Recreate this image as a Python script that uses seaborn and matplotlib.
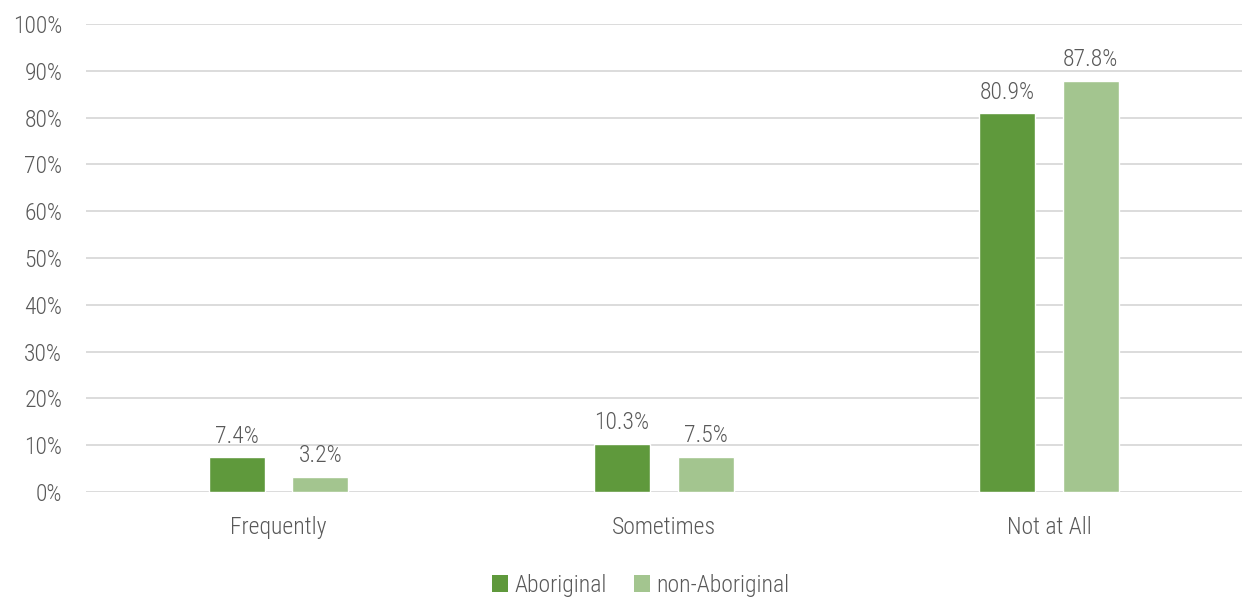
import matplotlib
matplotlib.use("Agg")
import matplotlib.pyplot as plt
import seaborn as sns
import pandas as pd
from matplotlib.patches import Patch

# Survey responses by group (percent)
categories = ["Frequently", "Sometimes", "Not at All"]
groups = ["Aboriginal", "non-Aboriginal"]
aboriginal = [7.4, 10.3, 80.9]
non_aboriginal = [3.2, 7.5, 87.8]
y_ticks = [0, 10, 20, 30, 40, 50, 60, 70, 80, 90, 100]
y_tick_labels = [f"{t}%" for t in y_ticks]
colors = ["#5F993C", "#A3C58F"]

df = pd.DataFrame({
    "category": categories * 2,
    "group": [groups[0]] * 3 + [groups[1]] * 3,
    "value": aboriginal + non_aboriginal,
})

sns.set_theme(style="white")
plt.rcParams["font.family"] = ["Roboto Condensed", "Roboto", "DejaVu Sans"]
plt.rcParams["font.weight"] = "light"

text_color = "#595959"
fs = 17

fig = plt.figure(figsize=(12.44, 5.99), dpi=100)
ax = fig.add_axes([0.0691, 0.1786, 0.9289, 0.7814])

sns.barplot(data=df, x="category", y="value", hue="group",
            order=categories, hue_order=groups, palette=colors,
            width=0.434, gap=0.33, saturation=1, legend=False,
            errorbar=None, ax=ax, zorder=3)

for container, vals in zip(ax.containers, [aboriginal, non_aboriginal]):
    ax.bar_label(container, labels=[f"{v:.1f}%" for v in vals], padding=7,
                 fontsize=fs, color=text_color, fontweight="light")

ax.set_xlim(-0.5, 2.5)
ax.set_ylim(0, 100)
ax.set_yticks(y_ticks)
ax.set_yticklabels(y_tick_labels)
ax.yaxis.grid(True, color="#D9D9D9", linewidth=1.3, zorder=0)
ax.set_axisbelow(True)
for s in ax.spines.values():
    s.set_visible(False)
ax.tick_params(axis="y", length=0, pad=17, labelsize=fs, labelcolor=text_color)
ax.tick_params(axis="x", length=0, pad=17, labelsize=fs, labelcolor=text_color)
ax.set_xlabel("")
ax.set_ylabel("")

handles = [Patch(facecolor=c, edgecolor="none", label=g) for c, g in zip(colors, groups)]
fig.legend(handles=handles, loc="lower center", bbox_to_anchor=(0.515, -0.032),
           ncol=2, frameon=False, fontsize=fs, handlelength=0.7, handleheight=0.7,
           handletextpad=0.25, columnspacing=1.15, labelcolor=text_color)

fig.savefig("out.png", dpi=100)
